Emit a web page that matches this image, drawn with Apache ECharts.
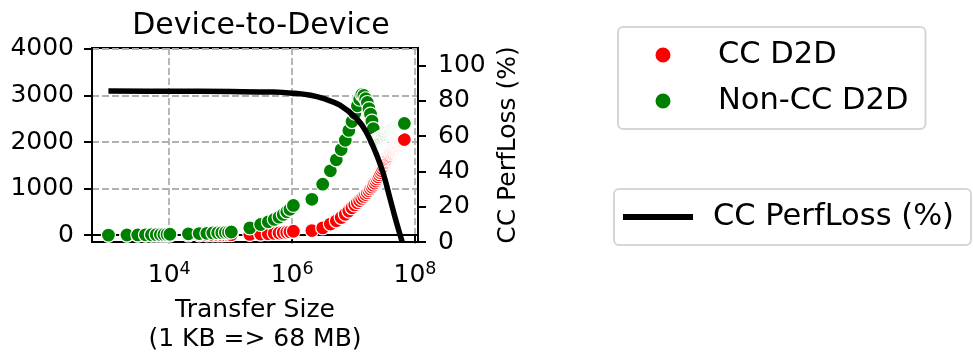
<!DOCTYPE html>
<html>
<head>
<meta charset="utf-8">
<script src="https://cdn.jsdelivr.net/npm/echarts@6/dist/echarts.min.js"></script>
<style>
  html, body { margin: 0; padding: 0; background: #fff; }
  #chart { width: 973px; height: 361px; }
</style>
</head>
<body>
<div id="chart"></div>
<script>
// Transfer sizes in KB (1 KB => 64 MB)
const sizesKB = [
  1, 2, 3, 4, 5, 6, 7, 8, 9, 10,
  20, 30, 40, 50, 60, 70, 80, 90, 100,
  200, 300, 400, 500, 600, 700, 800, 900, 1024,
  2048, 3072, 4096, 5120, 6144, 7168, 8192, 9216, 10240,
  11264, 12288, 13312, 14336, 15360, 16384, 17408, 18432, 19456, 20480,
  21504, 22528, 23552, 24576, 25600, 26624, 27648, 28672, 29696, 30720,
  31744, 32768, 33792, 34816, 35840, 36864, 37888, 38912, 39936, 40960,
  41984, 43008, 44032, 45056, 46080, 47104, 48128, 49152, 50176, 51200,
  52224, 53248, 54272, 55296, 56320, 57344, 58368, 59392, 60416, 61440,
  62464, 63488, 64512, 65536
];

// Bandwidth, CC device-to-device copies
const ccD2D = [
  1, 1, 1, 2, 2, 2, 2, 3, 3, 3,
  5, 6, 7, 8, 9, 10, 11, 12, 13,
  18, 25, 32, 40, 48, 56, 64, 74, 86,
  100, 158, 240, 310, 380, 450, 520, 590, 650,
  700, 745, 790, 835, 875, 915, 955, 995, 1035, 1075,
  1120, 1165, 1210, 1255, 1300, 1345, 1390, 1435, 1480, 1525,
  1560, 1590, 1620, 1645, 1670, 1695, 1720, 1745, 1765, 1785,
  1800, 1815, 1830, 1845, 1860, 1872, 1884, 1896, 1908, 1920,
  1930, 1940, 1950, 1960, 1970, 1979, 1988, 1997, 2006, 2015,
  2025, 2035, 2045, 2055
];

// Bandwidth, non-CC device-to-device copies
const nonCcD2D = [
  3, 5, 7, 9, 11, 13, 15, 17, 19, 21,
  30, 36, 42, 48, 52, 56, 60, 64, 70,
  158, 231, 288, 339, 389, 447, 504, 556, 640,
  772, 1096, 1384, 1620, 1840, 2040, 2250, 2440, 2620,
  2780, 2920, 3020, 3000, 2930, 2850, 2720, 2600, 2450, 2290,
  2020, 2035, 2050, 2065, 2080, 2092, 2104, 2116, 2128, 2140,
  2150, 2160, 2170, 2180, 2190, 2200, 2208, 2216, 2224, 2232,
  2240, 2248, 2256, 2264, 2272, 2280, 2288, 2296, 2304, 2312,
  2320, 2326, 2332, 2338, 2344, 2350, 2356, 2362, 2368, 2374,
  2380, 2386, 2392, 2400
];

// CC performance-loss curve (bytes, %)
const lossSizes = [1024, 1e4, 1e5, 5e5, 1e6, 2e6, 3.2e6, 6e6, 1.12e7, 1.6e7, 2.4e7, 3.1e7, 3.9e7, 5e7, 6.2e7];
const lossPct   = [85.6, 85.5, 85.3, 85.0, 84.4, 83.2, 81.4, 77.6, 70.0, 62.5, 49.0, 38.0, 25.0, 11.0, 0.0];

// Tick positions
const xTicks = [1e4, 1e6, 1e8];
const bwTicks = [0, 1000, 2000, 3000, 4000];
const pctTicks = [0, 20, 40, 60, 80, 100];

const FONT = 'DejaVu Sans';
const BASE = 25;
const TITLE = 30;
const LEG = 30.5;

const toBytes = kb => kb * 1024;
const ccData = sizesKB.map((kb, i) => [toBytes(kb), ccD2D[i]]);
const nonCcData = sizesKB.map((kb, i) => [toBytes(kb), nonCcD2D[i]]);
const lossData = lossSizes.map((s, i) => [s, lossPct[i]]);

const gridLine = { show: true, lineStyle: { color: '#b0b0b0', width: 1.8, type: [7, 3] } };
const blackAxis = { show: true, lineStyle: { color: '#000', width: 2 } };
const tickStyle = { color: '#000', width: 2 };

// legend marker: a dot centred in a 70 x 17 handle box
const dotIcon = 'path://M0,0h0.01M70,17h0.01M26.5,8.5a8.5,8.5 0 1,0 17,0a8.5,8.5 0 1,0 -17,0Z';
const legendText = {
  fontFamily: FONT, fontSize: LEG, color: '#000', lineHeight: 34,
  rich: {
    pad: { width: 15, fontSize: LEG, lineHeight: 34 },
    t: { fontFamily: FONT, fontSize: LEG, color: '#000', lineHeight: 34 }
  }
};
const legendFormatter = name => '{pad| }{t|' + name + '}';

const chart = echarts.init(document.getElementById('chart'), null, { renderer: 'canvas' });

chart.setOption({
  animation: false,
  textStyle: { fontFamily: FONT, color: '#000' },
  title: {
    text: 'Device-to-Device',
    left: 256,
    top: 6,
    textAlign: 'center',
    textStyle: { fontFamily: FONT, fontSize: TITLE, fontWeight: 'normal', color: '#000' }
  },
  grid: {
    left: 92, right: 555, top: 48, bottom: 119,
    show: true, borderColor: '#000', borderWidth: 2,
    containLabel: false, outerBoundsMode: 'none'
  },
  legend: [
    {
      data: ['CC D2D', 'Non-CC D2D'],
      orient: 'vertical',
      left: 618, top: 27,
      padding: [11, 17, 11, 9],
      itemGap: 12,
      itemWidth: 70, itemHeight: 17,
      icon: dotIcon,
      symbolKeepAspect: false,
      selectedMode: false,
      backgroundColor: '#fff',
      borderColor: '#d6d6d6', borderWidth: 2, borderRadius: 5,
      formatter: legendFormatter,
      textStyle: legendText
    },
    {
      data: ['CC PerfLoss (%)'],
      left: 614, top: 189,
      padding: [11, 17, 11, 9],
      itemWidth: 70, itemHeight: 6,
      icon: 'rect',
      symbolKeepAspect: false,
      selectedMode: false,
      backgroundColor: '#fff',
      borderColor: '#d6d6d6', borderWidth: 2, borderRadius: 5,
      formatter: legendFormatter,
      textStyle: legendText
    }
  ],
  xAxis: {
    type: 'log', logBase: 10,
    min: 553, max: 1.12e8,
    axisLine: blackAxis,
    axisTick: { show: true, customValues: xTicks, length: 8, lineStyle: tickStyle },
    minorTick: { show: false },
    axisLabel: {
      customValues: xTicks,
      margin: 18,
      formatter: v => '{b|10}{s|' + Math.round(Math.log10(v)) + '}',
      rich: {
        b: { fontFamily: FONT, fontSize: BASE, lineHeight: 28, verticalAlign: 'bottom', color: '#000' },
        s: { fontFamily: FONT, fontSize: 17.5, lineHeight: 17, verticalAlign: 'top', color: '#000' }
      }
    },
    splitLine: gridLine,
    name: 'Transfer Size\n(1 KB => 68 MB)',
    nameLocation: 'middle',
    nameGap: 54,
    nameTextStyle: { fontFamily: FONT, fontSize: BASE, lineHeight: 29, color: '#000' }
  },
  yAxis: [
    {
      type: 'value',
      min: -145, max: 4020,
      axisLine: blackAxis,
      axisTick: { show: true, customValues: bwTicks, length: 8, lineStyle: tickStyle },
      axisLabel: { customValues: bwTicks, margin: 18, fontSize: BASE, color: '#000', formatter: v => String(v) },
      splitLine: gridLine
    },
    {
      type: 'value',
      position: 'right',
      min: 0, max: 110,
      axisLine: blackAxis,
      axisTick: { show: true, customValues: pctTicks, length: 8, lineStyle: tickStyle },
      axisLabel: { customValues: pctTicks, margin: 20, fontSize: BASE, color: '#000', formatter: v => String(v) },
      splitLine: { show: false },
      name: 'CC PerfLoss (%)',
      nameLocation: 'middle',
      nameRotate: 90,
      nameGap: 78,
      nameTextStyle: { fontFamily: FONT, fontSize: BASE, color: '#000' }
    }
  ],
  series: [
    {
      name: 'CC D2D',
      type: 'scatter',
      data: ccData,
      symbol: 'circle',
      symbolSize: 14,
      itemStyle: { color: '#ff0000', borderColor: '#fff', borderWidth: 1.2, opacity: 1 },
      z: 2
    },
    {
      name: 'Non-CC D2D',
      type: 'scatter',
      data: nonCcData,
      symbol: 'circle',
      symbolSize: 14,
      itemStyle: { color: '#008000', borderColor: '#fff', borderWidth: 1.2, opacity: 1 },
      z: 3
    },
    {
      name: 'CC PerfLoss (%)',
      type: 'line',
      yAxisIndex: 1,
      data: lossData,
      symbol: 'none',
      smooth: 0.4,
      lineStyle: { color: '#000', width: 5.5 },
      itemStyle: { color: '#000' },
      z: 4
    }
  ]
});
</script>
</body>
</html>
